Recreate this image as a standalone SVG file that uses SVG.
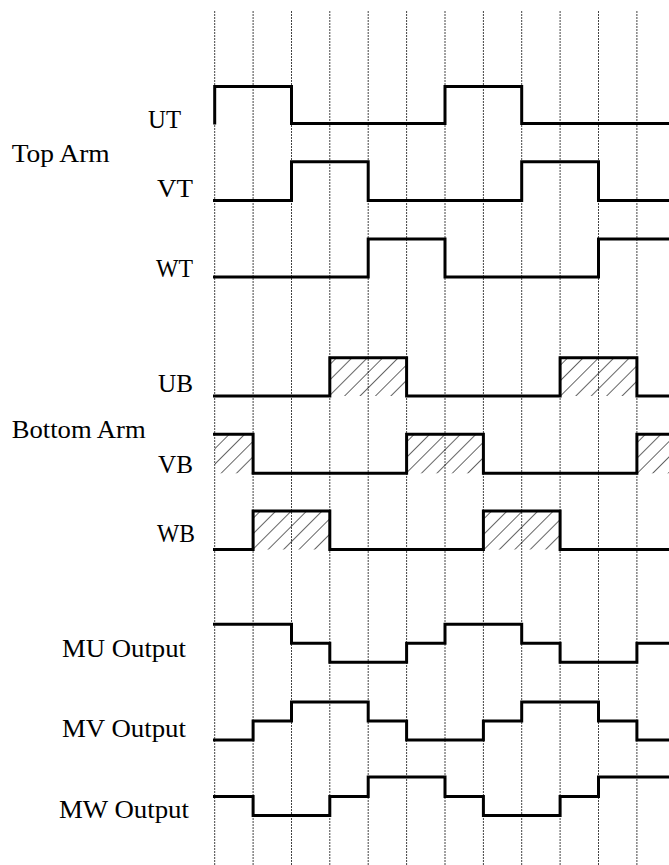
<svg xmlns="http://www.w3.org/2000/svg" width="669" height="865" viewBox="0 0 669 865">
<style>
.grid{stroke:#444;stroke-width:1;stroke-dasharray:2 1;fill:none}
.sig{stroke:#000;stroke-width:3;fill:none;stroke-linejoin:miter}
.lbl{font-family:"Liberation Serif","Times New Roman",serif;font-size:25px;fill:#000}
.hatch{fill:url(#hatch);stroke:none}
</style>
<defs>
<pattern id="hatch" patternUnits="userSpaceOnUse" width="10.9" height="10.9" patternTransform="rotate(45)">
<line x1="0" y1="0" x2="0" y2="10.9" stroke="#000" stroke-width="1.2"/>
</pattern>
</defs>
<rect width="669" height="865" fill="#fff"/>
<g id="grid">
<line class="grid" x1="214.7" y1="11" x2="214.7" y2="865"/>
<line class="grid" x1="253.1" y1="11" x2="253.1" y2="865"/>
<line class="grid" x1="291.5" y1="11" x2="291.5" y2="865"/>
<line class="grid" x1="329.8" y1="11" x2="329.8" y2="865"/>
<line class="grid" x1="368.2" y1="11" x2="368.2" y2="865"/>
<line class="grid" x1="406.6" y1="11" x2="406.6" y2="865"/>
<line class="grid" x1="445" y1="11" x2="445" y2="865"/>
<line class="grid" x1="483.4" y1="11" x2="483.4" y2="865"/>
<line class="grid" x1="521.7" y1="11" x2="521.7" y2="865"/>
<line class="grid" x1="560.1" y1="11" x2="560.1" y2="865"/>
<line class="grid" x1="598.5" y1="11" x2="598.5" y2="865"/>
<line class="grid" x1="636.9" y1="11" x2="636.9" y2="865"/>
</g>
<g id="labels">
<text class="lbl" x="11.7" y="161.7" textLength="98" lengthAdjust="spacingAndGlyphs">Top Arm</text>
<text class="lbl" x="148" y="127.5" textLength="33" lengthAdjust="spacingAndGlyphs">UT</text>
<text class="lbl" x="157" y="196.7" textLength="36" lengthAdjust="spacingAndGlyphs">VT</text>
<text class="lbl" x="156" y="276.7" textLength="37" lengthAdjust="spacingAndGlyphs">WT</text>
<text class="lbl" x="11.7" y="438" textLength="134" lengthAdjust="spacingAndGlyphs">Bottom Arm</text>
<text class="lbl" x="158" y="391.7" textLength="35" lengthAdjust="spacingAndGlyphs">UB</text>
<text class="lbl" x="158" y="473" textLength="35" lengthAdjust="spacingAndGlyphs">VB</text>
<text class="lbl" x="157" y="541.7" textLength="38" lengthAdjust="spacingAndGlyphs">WB</text>
<text class="lbl" x="62" y="657.3" textLength="124" lengthAdjust="spacingAndGlyphs">MU Output</text>
<text class="lbl" x="62" y="737" textLength="124" lengthAdjust="spacingAndGlyphs">MV Output</text>
<text class="lbl" x="59" y="817.7" textLength="130" lengthAdjust="spacingAndGlyphs">MW Output</text>
</g>
<g id="hatches">
<rect class="hatch" x="329.8" y="357.7" width="76.8" height="38.3"/>
<rect class="hatch" x="560.1" y="357.7" width="76.8" height="38.3"/>
<rect class="hatch" x="214.7" y="434.3" width="38.4" height="39"/>
<rect class="hatch" x="406.6" y="434.3" width="76.8" height="39"/>
<rect class="hatch" x="636.9" y="434.3" width="32.1" height="39"/>
<rect class="hatch" x="253.1" y="511" width="76.7" height="38.5"/>
<rect class="hatch" x="483.4" y="511" width="76.7" height="38.5"/>
</g>
<g id="connectors">
<path id="UT" class="sig" d="M214.7,124.5 V86.5 H291.5 V123.5 H445 V86.5 H521.7 V123.5 H669"/>
<path id="VT" class="sig" d="M213,200.5 H291.5 V161.7 H368.2 V200.5 H521.7 V161.7 H598.5 V200.5 H669"/>
<path id="WT" class="sig" d="M213,277 H368.2 V239 H445 V277 H598.5 V239 H669"/>
<path id="UB" class="sig" d="M213,396 H329.8 V357.7 H406.6 V396 H560.1 V357.7 H636.9 V396 H669"/>
<path id="VB" class="sig" d="M213,434.3 H253.1 V473.3 H406.6 V434.3 H483.4 V473.3 H636.9 V434.3 H669"/>
<path id="WB" class="sig" d="M213,549.5 H253.1 V511 H329.8 V549.5 H483.4 V511 H560.1 V549.5 H669"/>
<path id="MU" class="sig" d="M213,624.3 H291.5 V643.3 H329.8 V662.3 H406.6 V643.3 H445 V624.3 H521.7 V643.3 H560.1 V662.3 H636.9 V643.3 H669"/>
<path id="MV" class="sig" d="M213,740 H253.1 V721 H291.5 V702 H368.2 V721 H406.6 V740 H483.4 V721 H521.7 V702 H598.5 V721 H636.9 V740 H669"/>
<path id="MW" class="sig" d="M213,796.5 H253.1 V815.5 H329.8 V796.5 H368.2 V777 H445 V796.5 H483.4 V815.5 H560.1 V796.5 H598.5 V777 H669"/>
</g>
</svg>
